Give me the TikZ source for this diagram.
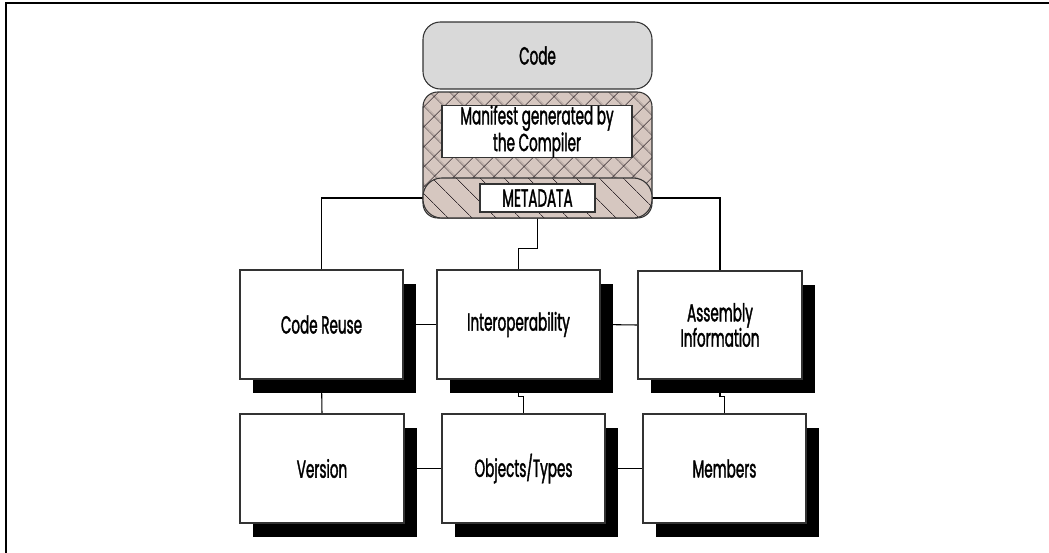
\documentclass[tikz,border=0pt]{standalone}
\usepackage{fontspec}
\setmainfont{Poppins}[FakeStretch=0.55, FakeBold=1.4]
\usetikzlibrary{patterns.meta,shadows,backgrounds}
\newlength\pxu
\setlength\pxu{0.75pt}
\definecolor{codegray}{HTML}{D9D9D9}
\definecolor{mfill}{HTML}{D6C7C0}
\definecolor{hatchc}{HTML}{3A3034}
\definecolor{edge}{HTML}{333333}
\tikzset{
  lbl/.style={font=\fontsize{18.5}{19}\selectfont, text=black, align=center},
  topbox/.style={lbl, draw=edge, line width=0.8pt, fill=codegray, rounded corners=13pt,
    minimum width=229\pxu, minimum height=67\pxu},
  crossbox/.style={draw=edge, line width=0.8pt, rounded corners=11pt,
    preaction={fill=mfill}, pattern={Hatch[angle=45,distance=10.5pt,line width=0.55pt]},
    pattern color=hatchc, minimum width=229\pxu, minimum height=126\pxu},
  linebox/.style={draw=edge, line width=0.8pt, rounded corners=14pt,
    preaction={fill=mfill}, pattern={Lines[angle=-45,distance=13pt,line width=0.55pt]},
    pattern color=hatchc, minimum width=229\pxu, minimum height=40\pxu},
  labelbox/.style={lbl, draw=edge, line width=0.8pt, fill=white, inner sep=0pt},
  infobox/.style={lbl, draw=edge, line width=0.8pt, fill=white, inner sep=0pt,
    minimum width=163\pxu, minimum height=109\pxu,
    drop shadow={shadow xshift=13\pxu, shadow yshift=-14\pxu, fill=black, opacity=1}},
  wire/.style={draw=black, line width=0.8pt},
}
\begin{document}
\begin{tikzpicture}[x=0.75pt,y=-0.75pt]
\useasboundingbox (0,0) rectangle (1049,553);
% page frame
\draw[line width=1.6pt, black] (6,553) -- (6,3) -- (1049,3);

% assembly stack
\node[topbox] (code) at (537.5,55.5) {Code};
\node[crossbox] (manifest) at (537.5,155) {};
\node[linebox] (manifestlow) at (537.5,198) {};
\node[labelbox, minimum width=190\pxu, minimum height=51\pxu] (mtext) at (537,131.5)
  {Manifest generated by\\the Compiler};
\node[labelbox, minimum width=115\pxu, minimum height=28\pxu] (meta) at (537.5,198) {METADATA};

% first row
\node[infobox] (reuse) at (321.5,324.5) {Code Reuse};
\node[infobox] (interop) at (518.5,324.5) {Interoperability};
\node[infobox, minimum width=164\pxu, minimum height=108\pxu] (assembly) at (720,325)
  {Assembly\\Information};

% second row
\node[infobox, minimum width=164\pxu] (version) at (322,468.5) {Version};
\node[infobox] (objects) at (523.5,468.5) {Objects/Types};
\node[infobox] (members) at (724.5,468.5) {Members};

% connectors
\begin{scope}[on background layer]
  \draw[wire] (manifestlow.west) -| (reuse.north);
  \draw[wire] (manifestlow.east) -| (assembly.north);
  \draw[wire] (manifestlow.south) -- ++(0,30) -| (interop.north);
  \draw[wire] (reuse.east) -- (interop.west);
  \draw[wire] (interop.east) -- (assembly.west);
  \draw[wire] (version.east) -- (objects.west);
  \draw[wire] (objects.east) -- (members.west);
  \draw[wire] (reuse.south) -- (version.north);
  \draw[wire] (interop.south) -- ++(0,17) -| (objects.north);
  \draw[wire] (assembly.south) -- ++(0,17) -| (members.north);
\end{scope}
\end{tikzpicture}
\end{document}
